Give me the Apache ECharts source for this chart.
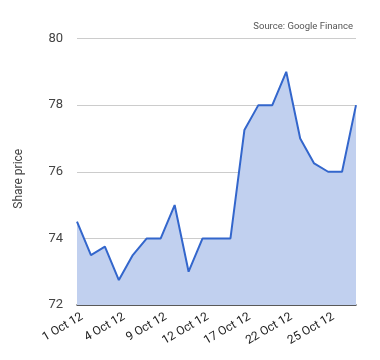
<!DOCTYPE html>
<html><head><meta charset="utf-8">
<script src="https://cdn.jsdelivr.net/npm/echarts@6/dist/echarts.min.js"></script>
<style>html,body{margin:0;padding:0;background:#fff}#c{width:380px;height:360px}</style>
</head><body><div id="c"></div>
<script>
const categories = ["1 Oct 12","2 Oct 12","3 Oct 12","4 Oct 12","5 Oct 12","8 Oct 12","9 Oct 12","10 Oct 12","11 Oct 12","12 Oct 12","15 Oct 12","16 Oct 12","17 Oct 12","18 Oct 12","19 Oct 12","22 Oct 12","23 Oct 12","24 Oct 12","25 Oct 12","26 Oct 12","31 Oct 12"];
const prices = [74.5,73.5,73.75,72.75,73.5,74,74,75,73,74,74,74,77.25,78,78,79,77,76.25,76,76,78];
const yMin = 72, yMax = 80, yStep = 2;

const chart = echarts.init(document.getElementById('c'));
chart.setOption({
  animation: false,
  title: {
    text: 'Source: Google Finance', right: 27, top: 22, padding: 0,
    textStyle: {fontFamily: 'Roboto', fontSize: 9.5, fontWeight: 'normal', color: '#555'}
  },
  grid: {left: 77, right: 24, top: 38.5, bottom: 55},
  xAxis: {
    type: 'category', data: categories, boundaryGap: false,
    axisLine: {lineStyle: {color: '#333', width: 1.5}},
    axisTick: {show: false},
    axisLabel: {interval: 2, rotate: 30, fontFamily: 'Roboto', fontSize: 12, color: '#222', margin: 14, padding: [0, -6, 0, 0]}
  },
  yAxis: {
    type: 'value', min: yMin, max: yMax, interval: yStep,
    name: 'Share price', nameLocation: 'middle', nameGap: 52, nameRotate: 90,
    nameTextStyle: {fontFamily: 'Roboto', fontSize: 12, color: '#444', padding: [0, 14, 0, 0]},
    axisLine: {show: false}, axisTick: {show: false},
    axisLabel: {fontFamily: 'Roboto', fontSize: 13, color: '#444', margin: 14},
    splitLine: {lineStyle: {color: '#ccc'}}
  },
  series: [{
    type: 'line', data: prices, showSymbol: false,
    lineStyle: {color: '#3366cc', width: 2},
    itemStyle: {color: '#3366cc'},
    areaStyle: {color: '#c1d0ef', opacity: 1}
  }]
});
</script></body></html>
